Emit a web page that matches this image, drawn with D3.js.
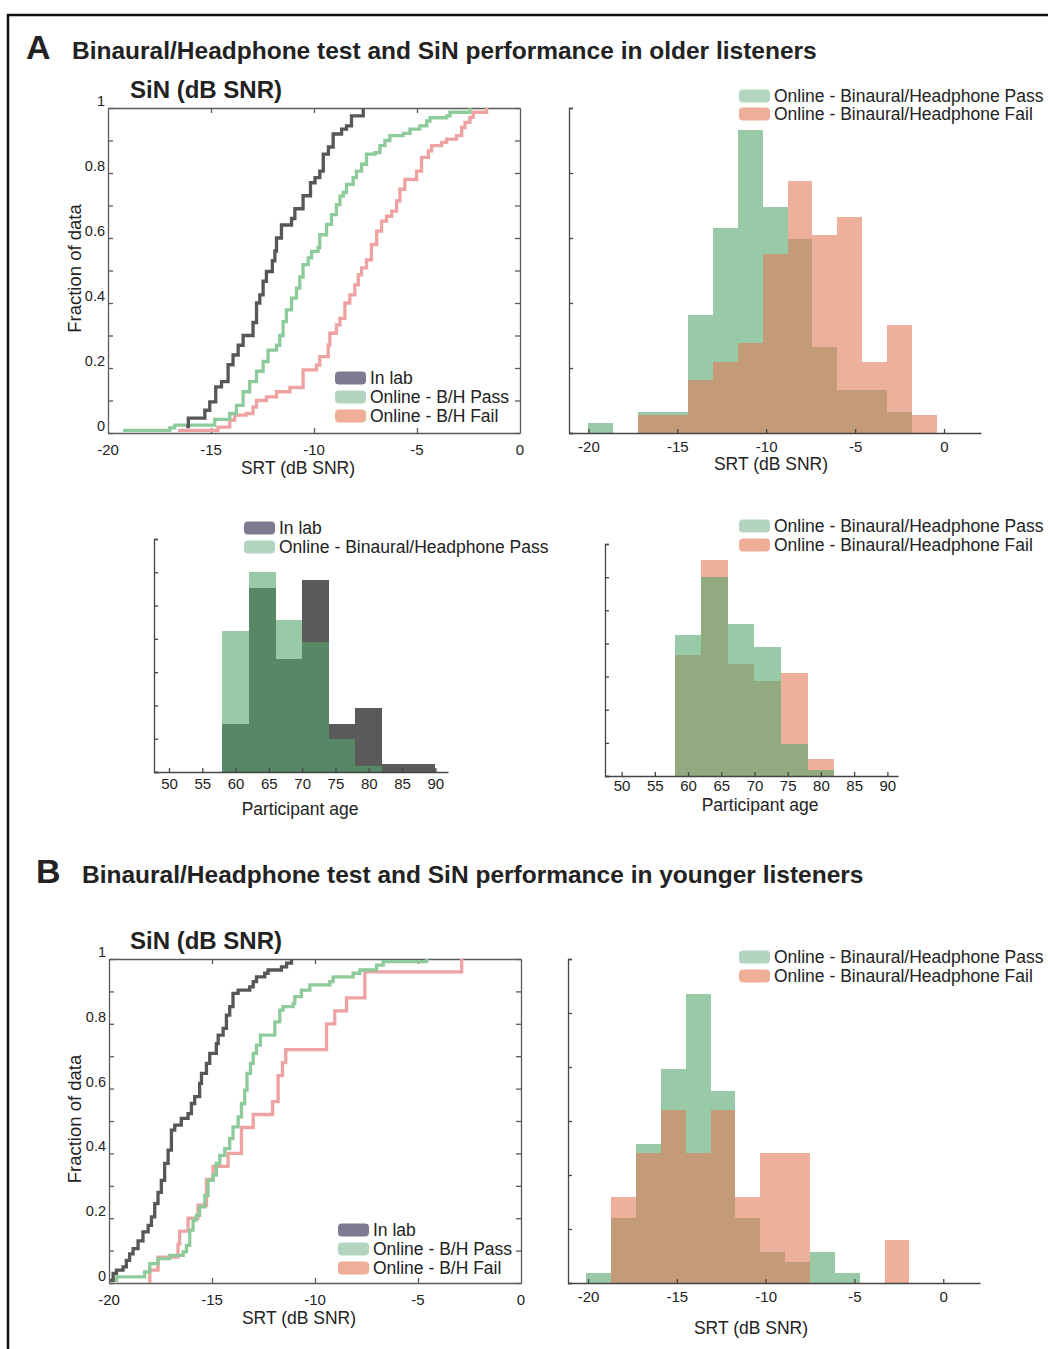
<!doctype html>
<html>
<head>
<meta charset="utf-8">
<title>Binaural/Headphone test and SiN performance</title>
<script src="https://d3js.org/d3.v7.min.js"></script>
<style>
  body { margin: 0; background: #fff; }
  svg text { font-family: "Liberation Sans", Arial, Helvetica, sans-serif; fill: #222; }
</style>
</head>
<body>
<div id="fig"></div>
<script>
// ---------- data ----------
// A: older listeners, cumulative SRT distributions (step knots)
var olderLabSrt  = [-16.2, -16.1, -15.3, -15.06, -14.77, -14.49, -14.17, -13.93, -13.68, -13.44, -12.96, -12.79, -12.63, -12.47, -12.31, -12.02, -11.9, -11.82, -11.58, -11.09, -10.93, -10.53, -10.17, -9.95, -9.72, -9.55, -9.3, -9.07, -8.66, -8.42, -8.18, -7.61];
var olderLabFrac = [0.02, 0.046, 0.07, 0.096, 0.142, 0.158, 0.21, 0.24, 0.27, 0.30, 0.34, 0.40, 0.425, 0.467, 0.497, 0.53, 0.56, 0.60, 0.64, 0.66, 0.69, 0.73, 0.77, 0.786, 0.806, 0.858, 0.88, 0.92, 0.935, 0.945, 0.976, 1.0];
var olderPassSrt  = [-19.27, -17.0, -16.76, -14.82, -14.09, -13.77, -13.44, -13.12, -12.79, -12.47, -12.23, -11.82, -11.66, -11.5, -11.34, -11.09, -10.85, -10.69, -10.53, -10.28, -10.12, -9.8, -9.72, -9.39, -9.15, -8.91, -8.74, -8.58, -8.42, -8.1, -7.94, -7.69, -7.45, -7.04, -6.8, -6.56, -6.32, -5.67, -5.34, -4.86, -4.53, -4.37, -3.56, -3.4, -2.43];
var olderPassFrac = [0.008, 0.016, 0.024, 0.042, 0.06, 0.085, 0.127, 0.158, 0.19, 0.22, 0.255, 0.27, 0.30, 0.343, 0.379, 0.415, 0.446, 0.48, 0.518, 0.539, 0.559, 0.57, 0.61, 0.642, 0.672, 0.703, 0.729, 0.74, 0.765, 0.786, 0.806, 0.827, 0.858, 0.863, 0.884, 0.9, 0.915, 0.922, 0.935, 0.945, 0.96, 0.97, 0.976, 0.987, 1.0];
var olderFailSrt  = [-16.6, -14.66, -14.09, -13.85, -13.28, -12.96, -12.79, -12.31, -11.82, -11.17, -10.53, -9.88, -9.72, -9.31, -9.23, -8.91, -8.74, -8.5, -8.26, -8.02, -7.85, -7.69, -7.45, -7.21, -6.96, -6.72, -6.48, -6.23, -5.99, -5.83, -5.59, -5.02, -4.78, -4.45, -4.29, -3.8, -3.56, -3.08, -2.83, -2.67, -2.43, -2.27, -1.62];
var olderFailFrac = [0.008, 0.018, 0.04, 0.055, 0.06, 0.08, 0.10, 0.111, 0.127, 0.14, 0.194, 0.209, 0.235, 0.271, 0.307, 0.333, 0.353, 0.40, 0.425, 0.456, 0.487, 0.508, 0.533, 0.58, 0.621, 0.652, 0.667, 0.683, 0.714, 0.75, 0.78, 0.806, 0.848, 0.868, 0.884, 0.894, 0.904, 0.915, 0.94, 0.956, 0.971, 0.987, 1.0];

// A: SRT histograms (probability per bin)
var olderSrtEdges = [-20, -18.6, -17.2, -15.8, -14.4, -13.0, -11.6, -10.2, -8.8, -7.4, -6.0, -4.6, -3.2, -1.8, -0.4];
var olderSrtPass  = [0.008, 0, 0.016, 0.016, 0.091, 0.158, 0.233, 0.174, 0.149, 0.066, 0.033, 0.033, 0.016, 0];
var olderSrtFail  = [0, 0, 0.014, 0.014, 0.041, 0.055, 0.069, 0.138, 0.194, 0.152, 0.166, 0.055, 0.083, 0.014];

// A: age histograms
var ageEdges     = [58, 62, 66, 70, 74, 78, 82, 86, 90];
var olderAgeLab  = [0.0715, 0.276, 0.169, 0.288, 0.0715, 0.096, 0.0125, 0.0125];
var olderAgePass = [0.212, 0.30, 0.229, 0.195, 0.049, 0.0085, 0, 0];
var olderAgeFail = [0.182, 0.326, 0.169, 0.144, 0.156, 0.026, 0, 0];

// B: younger listeners, cumulative SRT distributions
var youngLabSrt  = [-19.97, -19.8, -19.64, -19.32, -19.16, -19.0, -18.83, -18.59, -18.35, -18.1, -17.94, -17.78, -17.62, -17.46, -17.3, -17.13, -16.97, -16.81, -16.49, -16.16, -16.0, -15.84, -15.6, -15.51, -15.27, -15.11, -14.79, -14.7, -14.46, -14.3, -14.14, -13.98, -13.73, -13.17, -13.0, -12.84, -12.44, -12.28, -11.63, -11.38, -11.14];
var youngLabFrac = [0.008, 0.03, 0.04, 0.05, 0.07, 0.09, 0.106, 0.13, 0.158, 0.178, 0.204, 0.245, 0.28, 0.317, 0.369, 0.41, 0.472, 0.487, 0.508, 0.523, 0.554, 0.575, 0.616, 0.647, 0.678, 0.709, 0.739, 0.765, 0.786, 0.827, 0.853, 0.894, 0.904, 0.914, 0.93, 0.945, 0.956, 0.966, 0.976, 0.987, 1.0];
var youngPassSrt  = [-19.97, -19.64, -18.27, -18.02, -17.62, -17.05, -16.4, -16.24, -16.08, -15.92, -15.76, -15.6, -15.35, -15.19, -14.95, -14.79, -14.62, -14.38, -14.14, -13.98, -13.73, -13.57, -13.41, -13.3, -13.13, -13.0, -12.84, -12.65, -11.95, -11.71, -11.55, -11.06, -10.98, -10.66, -10.25, -9.28, -9.12, -8.15, -7.82, -7.01, -6.69, -4.58];
var youngPassFrac = [0.008, 0.019, 0.034, 0.06, 0.075, 0.085, 0.096, 0.116, 0.163, 0.194, 0.209, 0.235, 0.27, 0.317, 0.333, 0.369, 0.394, 0.415, 0.446, 0.482, 0.513, 0.554, 0.595, 0.647, 0.678, 0.709, 0.734, 0.765, 0.806, 0.842, 0.853, 0.863, 0.884, 0.904, 0.92, 0.93, 0.945, 0.956, 0.966, 0.981, 0.992, 1.0];
var youngFailSrt  = [-18.02, -18.02, -17.62, -16.65, -16.57, -16.16, -15.68, -15.27, -14.95, -14.22, -13.57, -13.0, -12.06, -11.79, -11.58, -11.42, -9.44, -9.04, -8.47, -7.58, -2.88];
var youngFailFrac = [0, 0.04, 0.08, 0.12, 0.16, 0.20, 0.24, 0.32, 0.36, 0.40, 0.48, 0.52, 0.56, 0.64, 0.68, 0.72, 0.80, 0.84, 0.88, 0.96, 1.0];

// B: SRT histograms
var youngSrtEdges = [-20.1, -18.7, -17.3, -15.9, -14.5, -13.1, -11.7, -10.3, -8.9, -7.5, -6.1, -4.7, -3.3, -1.9];
var youngSrtPass  = [0.0093, 0.060, 0.129, 0.198, 0.268, 0.178, 0.060, 0.029, 0.019, 0.029, 0.0093, 0, 0];
var youngSrtFail  = [0, 0.08, 0.12, 0.16, 0.12, 0.16, 0.08, 0.12, 0.12, 0, 0, 0, 0.04];

// tick labels
var cdfSrtLabels  = [-20, -15, -10, -5, 0];
var cdfSrtTicks   = [-15, -10, -5];
var cdfFracLabels = [0, 0.2, 0.4, 0.6, 0.8, 1];
var histSrtTicks  = [-20, -15, -10, -5, 0];
var ageTicks      = [50, 55, 60, 65, 70, 75, 80, 85, 90];

// ---------- colours ----------
var lineLab = "#575757", linePass = "#8dcb9b", lineFail = "#eea2a2";
var fillLab = "#5a5a5a", fillPass = "#55a76e", fillFail = "#e17b5a";
var swLab = "#7b7a90", swPass = "#b3d5c0", swFail = "#eeae97";

var svg = d3.select("#fig").append("svg")
    .attr("width", 1048).attr("height", 1349);

// outer frame (top and left edges visible)
svg.append("path").attr("d", "M8,1349V15H1048")
    .attr("fill", "none").attr("stroke", "#111").attr("stroke-width", 2.5);

// ---------- helpers ----------
function styleAxis(sel, col) {
    sel.attr("color", col);
    sel.selectAll("path, line").attr("stroke-width", 1.3);
    sel.selectAll("text").attr("font-size", 15).attr("fill", "#222")
        .attr("font-family", '"Liberation Sans", Arial, sans-serif');
}

function legend(x0, rows) {
    var g = svg.append("g");
    rows.forEach(function(r) {
        g.append("rect").attr("x", x0).attr("y", r.y - 6.5)
            .attr("width", 31).attr("height", 13).attr("rx", 4)
            .attr("fill", r.color);
        g.append("text").attr("x", x0 + 35).attr("y", r.y).attr("dy", "0.36em")
            .attr("font-size", 17.5).text(r.label);
    });
}

function cdfPanel(o) {
    var x = d3.scaleLinear().domain([-20, 0]).range([o.left, o.right]);
    var y = d3.scaleLinear().domain([0, 1]).range([o.bottom, o.top]);
    var g = svg.append("g");
    var fracTicks = d3.range(0, 11).map(function(i) { return i / 10; });

    g.append("g").attr("transform", "translate(" + o.left + ",0)")
        .call(d3.axisLeft(y).tickValues(fracTicks).tickSize(-5).tickSizeOuter(0).tickFormat(""))
        .call(styleAxis, "#5a5a5a");
    g.append("g").attr("transform", "translate(" + o.right + ",0)")
        .call(d3.axisRight(y).tickValues(fracTicks).tickSize(-5).tickSizeOuter(0).tickFormat(""))
        .call(styleAxis, "#5a5a5a");
    g.append("g").attr("transform", "translate(0," + o.bottom + ")")
        .call(d3.axisBottom(x).tickValues(cdfSrtTicks).tickSize(-5).tickSizeOuter(0).tickFormat(""))
        .call(styleAxis, "#5a5a5a");
    g.append("g").attr("transform", "translate(0," + o.top + ")")
        .call(d3.axisTop(x).tickValues(cdfSrtTicks).tickSize(-5).tickSizeOuter(0).tickFormat(""))
        .call(styleAxis, "#5a5a5a");

    // tick labels (the y labels sit a little above their ticks in the original)
    g.selectAll(null).data(cdfFracLabels).enter().append("text")
        .attr("x", o.left - 3).attr("y", function(d) { return y(d) - 7; })
        .attr("dy", "0.35em").attr("text-anchor", "end").attr("font-size", 14.5)
        .text(d3.format("~g"));
    g.selectAll(null).data(cdfSrtLabels).enter().append("text")
        .attr("x", function(d) { return x(d); }).attr("y", o.bottom + 22)
        .attr("text-anchor", "middle").attr("font-size", 15)
        .text(function(d) { return String(d); });

    // step curves
    var line = d3.line()
        .x(function(d) { return x(d[0]); })
        .y(function(d) { return y(d[1]); })
        .curve(d3.curveStepAfter);
    o.series.forEach(function(s) {
        g.append("path").datum(d3.zip(s.srt, s.frac))
            .attr("fill", "none").attr("stroke", s.color)
            .attr("stroke-width", 3.3).attr("stroke-linejoin", "miter")
            .attr("d", line);
    });

    // titles
    g.append("text").attr("x", 130).attr("y", o.top - 10)
        .attr("font-size", 24).attr("font-weight", "bold").text("SiN (dB SNR)");
    g.append("text").attr("x", x(-10) - 16).attr("y", o.bottom + 41)
        .attr("text-anchor", "middle").attr("font-size", 17.5).text("SRT (dB SNR)");
    g.append("text")
        .attr("transform", "translate(81," + ((o.top + o.bottom) / 2 - 2) + ") rotate(-90)")
        .attr("text-anchor", "middle").attr("font-size", 18.5).text("Fraction of data");
}

function histPanel(o) {
    var x = d3.scaleLinear().domain(o.xDomain).range([o.left, o.right]);
    var y = d3.scaleLinear().domain([0, o.yMax]).range([o.bottom, o.top]);
    var g = svg.append("g");

    o.layers.forEach(function(layer) {
        var bins = layer.values.map(function(v, i) {
            return {x0: o.edges[i], x1: o.edges[i + 1], v: v};
        }).filter(function(b) { return b.v > 0; });
        g.selectAll(null).data(bins).enter().append("rect")
            .attr("x", function(b) { return Math.round(x(b.x0)); })
            .attr("width", function(b) { return Math.round(x(b.x1)) - Math.round(x(b.x0)); })
            .attr("y", function(b) { return y(b.v); })
            .attr("height", function(b) { return y(0) - y(b.v); })
            .attr("shape-rendering", "crispEdges")
            .attr("fill", layer.color).attr("fill-opacity", layer.opacity);
    });

    var yTicks = d3.range(0, Math.round(o.yMax / 0.05) + 1).map(function(i) { return i * 0.05; });
    g.append("g").attr("transform", "translate(" + o.left + ",0)")
        .call(d3.axisLeft(y).tickValues(yTicks).tickSize(-4).tickSizeOuter(-4).tickFormat(""))
        .call(styleAxis, "#444");
    g.append("g").attr("transform", "translate(0," + o.bottom + ")")
        .call(d3.axisBottom(x).tickValues(o.xTicks).tickSize(-4).tickSizeOuter(0)
            .tickPadding(o.pad).tickFormat(function(d) { return String(d); }))
        .call(styleAxis, "#444");

    g.append("text").attr("x", o.labelX).attr("y", o.labelY)
        .attr("text-anchor", "middle").attr("font-size", 17.5).text(o.xLabel);
}

// ---------- panel headings ----------
svg.append("text").attr("x", 26).attr("y", 59).attr("font-size", 34)
    .attr("font-weight", "bold").text("A");
svg.append("text").attr("x", 72).attr("y", 59).attr("font-size", 24.5)
    .attr("font-weight", "bold").attr("fill", "#222")
    .text("Binaural/Headphone test and SiN performance in older listeners");
svg.append("text").attr("x", 36).attr("y", 883).attr("font-size", 34)
    .attr("font-weight", "bold").text("B");
svg.append("text").attr("x", 82).attr("y", 883).attr("font-size", 24.5)
    .attr("font-weight", "bold")
    .text("Binaural/Headphone test and SiN performance in younger listeners");

// ---------- A: CDF ----------
cdfPanel({
    left: 108, right: 520, top: 108, bottom: 433,
    series: [
        {srt: olderFailSrt, frac: olderFailFrac, color: lineFail},
        {srt: olderPassSrt, frac: olderPassFrac, color: linePass},
        {srt: olderLabSrt, frac: olderLabFrac, color: lineLab}
    ]
});
legend(335, [
    {y: 378, label: "In lab", color: swLab},
    {y: 397, label: "Online - B/H Pass", color: swPass},
    {y: 416, label: "Online - B/H Fail", color: swFail}
]);

// ---------- A: SRT histogram ----------
histPanel({
    left: 569, right: 981, top: 108, bottom: 433,
    xDomain: [-21.09, 2.08], yMax: 0.25, edges: olderSrtEdges, xTicks: histSrtTicks, pad: 8,
    layers: [
        {values: olderSrtPass, color: fillPass, opacity: 0.6},
        {values: olderSrtFail, color: fillFail, opacity: 0.6}
    ],
    xLabel: "SRT (dB SNR)", labelX: 771, labelY: 470
});
legend(739, [
    {y: 96, label: "Online - Binaural/Headphone Pass", color: swPass},
    {y: 114, label: "Online - Binaural/Headphone Fail", color: swFail}
]);

// ---------- A: age histograms ----------
histPanel({
    left: 154, right: 448, top: 539, bottom: 772,
    xDomain: [47.75, 91.9], yMax: 0.35, edges: ageEdges, xTicks: ageTicks, pad: 6,
    layers: [
        {values: olderAgeLab, color: fillLab, opacity: 1},
        {values: olderAgePass, color: fillPass, opacity: 0.6}
    ],
    xLabel: "Participant age", labelX: 300, labelY: 815
});
legend(244, [
    {y: 528, label: "In lab", color: swLab},
    {y: 547, label: "Online - Binaural/Headphone Pass", color: swPass}
]);

histPanel({
    left: 605, right: 898, top: 544, bottom: 776,
    xDomain: [47.5, 91.6], yMax: 0.35, edges: ageEdges, xTicks: ageTicks, pad: 4,
    layers: [
        {values: olderAgeFail, color: fillFail, opacity: 0.6},
        {values: olderAgePass, color: fillPass, opacity: 0.6}
    ],
    xLabel: "Participant age", labelX: 760, labelY: 811
});
legend(739, [
    {y: 526, label: "Online - Binaural/Headphone Pass", color: swPass},
    {y: 545, label: "Online - Binaural/Headphone Fail", color: swFail}
]);

// ---------- B: CDF ----------
cdfPanel({
    left: 109, right: 521, top: 959, bottom: 1283,
    series: [
        {srt: youngFailSrt, frac: youngFailFrac, color: lineFail},
        {srt: youngPassSrt, frac: youngPassFrac, color: linePass},
        {srt: youngLabSrt, frac: youngLabFrac, color: lineLab}
    ]
});
legend(338, [
    {y: 1230, label: "In lab", color: swLab},
    {y: 1249, label: "Online - B/H Pass", color: swPass},
    {y: 1268, label: "Online - B/H Fail", color: swFail}
]);

// ---------- B: SRT histogram ----------
histPanel({
    left: 568, right: 980, top: 959, bottom: 1283,
    xDomain: [-21.13, 2.07], yMax: 0.30, edges: youngSrtEdges, xTicks: histSrtTicks, pad: 8,
    layers: [
        {values: youngSrtPass, color: fillPass, opacity: 0.6},
        {values: youngSrtFail, color: fillFail, opacity: 0.6}
    ],
    xLabel: "SRT (dB SNR)", labelX: 751, labelY: 1334
});
legend(739, [
    {y: 957, label: "Online - Binaural/Headphone Pass", color: swPass},
    {y: 976, label: "Online - Binaural/Headphone Fail", color: swFail}
]);
</script>
</body>
</html>
